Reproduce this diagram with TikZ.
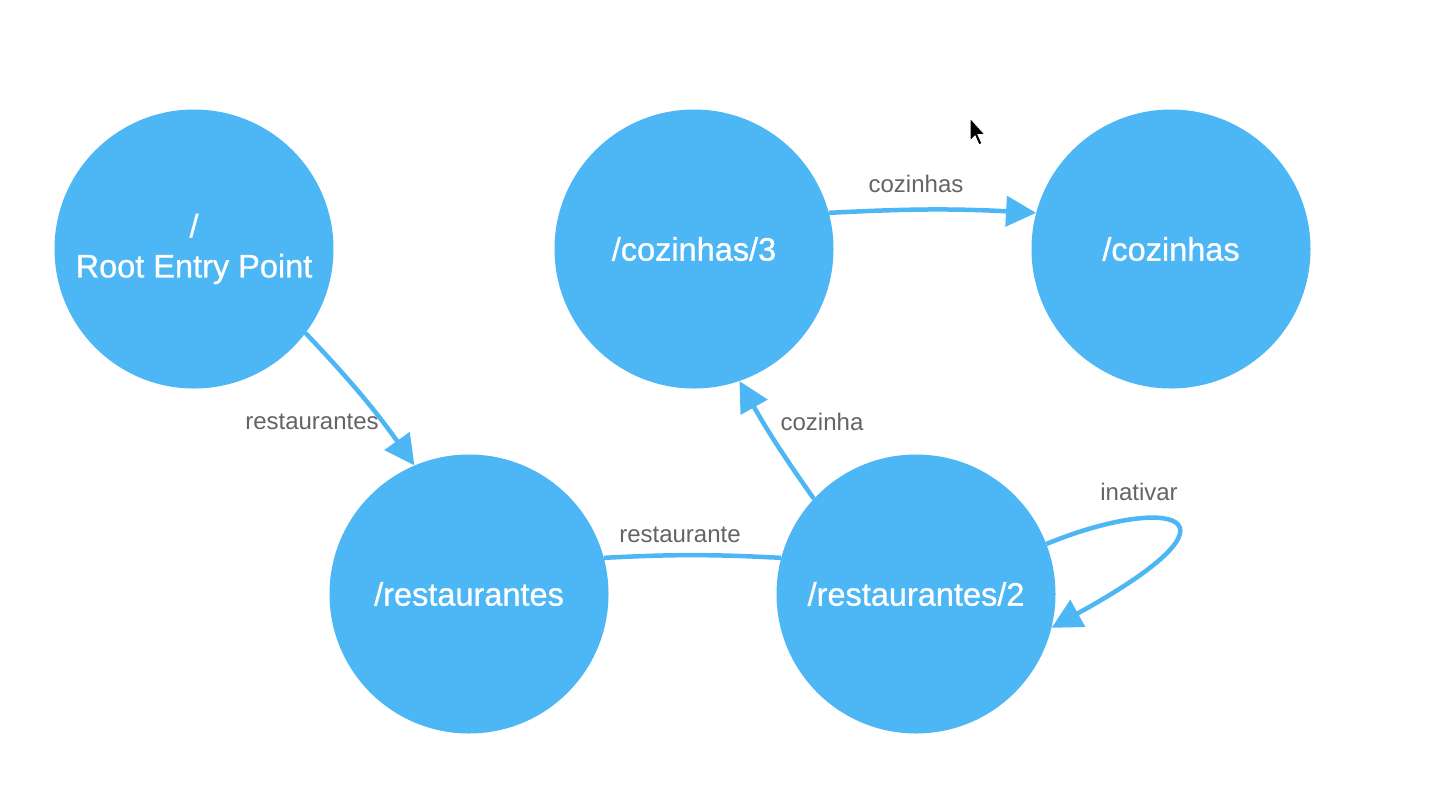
\documentclass[tikz,border=0pt]{standalone}
\usepackage{fontspec}
\setmainfont{Liberation Sans}
\newfontfamily\nodefont[FakeBold=0.8]{Liberation Sans}
\usetikzlibrary{arrows.meta}
\definecolor{nodeblue}{RGB}{77,182,245}
\definecolor{labelgray}{RGB}{100,100,100}
\begin{document}
\begin{tikzpicture}[x=1pt,y=-1pt,
  state/.style={circle,fill=nodeblue,minimum size=279pt,inner sep=0pt,text=white,
    font=\nodefont\fontsize{32.5}{40}\selectfont,align=center},
  link/.style={draw=nodeblue,line width=4.5pt,-{Triangle[length=30pt,width=30pt]}},
  plainlink/.style={draw=nodeblue,line width=4.5pt},
  lbl/.style={text=labelgray,font=\fontsize{24}{28}\selectfont,inner sep=0pt}]
\useasboundingbox[fill=white] (0,0) rectangle (1430,788);

\node[state] (root) at (194,249) {/\\Root Entry Point};
\node[state] (cz3) at (694,249) {/cozinhas/3};
\node[state] (cz) at (1171,249) {/cozinhas};
\node[state] (rest) at (469,594) {/restaurantes};
\node[state] (r2) at (916,594) {/restaurantes/2};

\draw[link] (root.-37) to[bend left=4] (rest.113);
\draw[plainlink] (r2.165) to[bend right=3] (rest.15);
\draw[link] (r2.137) to[bend left=3] (cz3.-71);
\draw[link] (cz3.15) to[bend left=3] (cz.165);
\draw[link] (r2.21) .. controls (1165,495) and (1262,512) .. (r2.-14);

\node[lbl] (l1) at (312,422) {restaurantes};
\node[lbl] (l2) at (680,535) {restaurante};
\node[lbl] (l3) at (822,422) {cozinha};
\node[lbl] (l4) at (916,184) {cozinhas};
\node[lbl] (l5) at (1139,492) {inativar};

\coordinate (cur) at (970,118);
\fill[black,draw=white,line width=1pt] (cur) -- ++(0,23) -- ++(5,-5) -- ++(4,9) -- ++(3,-1.5) -- ++(-4,-9) -- ++(7,0) -- cycle;
\end{tikzpicture}
\end{document}
